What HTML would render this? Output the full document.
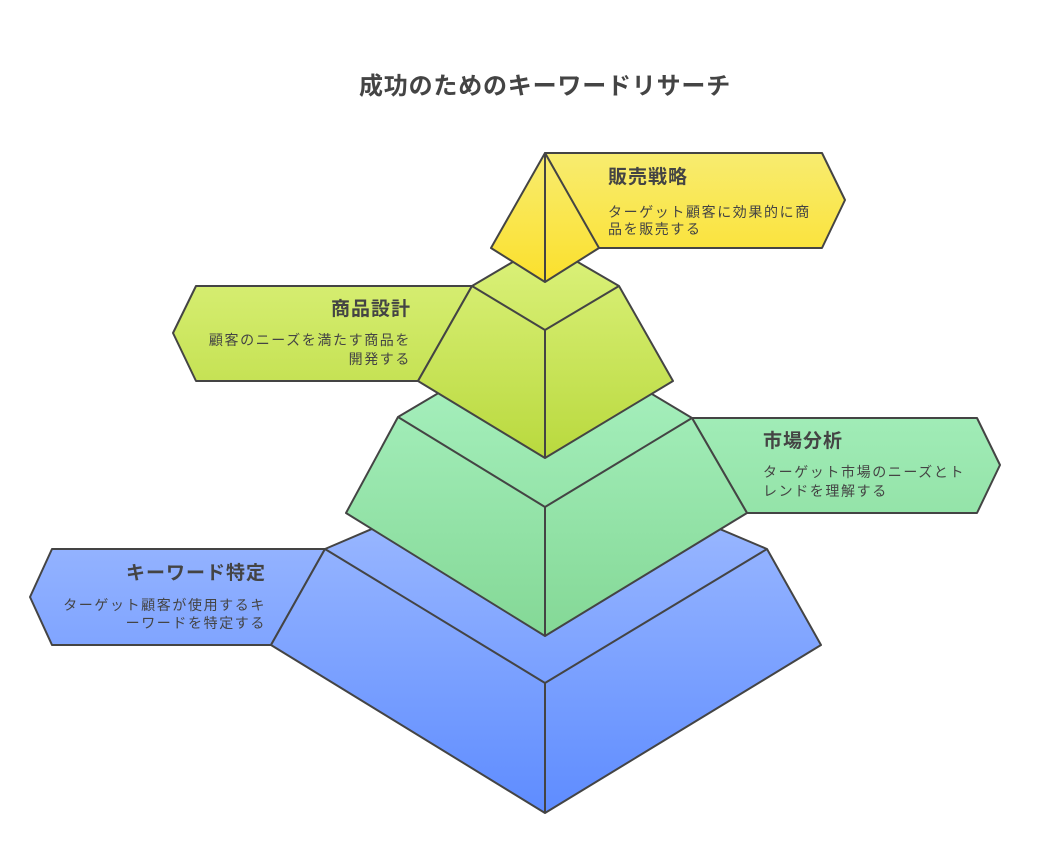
<!DOCTYPE html>
<html><head><meta charset="utf-8"><style>
html,body{margin:0;padding:0;background:#fff;}
svg{display:block;}
text{font-family:"Liberation Sans","Noto Sans CJK JP",sans-serif;fill:#444;}
.t{font-weight:bold;font-size:19px;letter-spacing:1px;}
.d{font-size:14px;letter-spacing:1.6px;}
</style></head><body>
<svg width="1044" height="845" viewBox="0 0 1044 845" xmlns="http://www.w3.org/2000/svg">
<defs>
<linearGradient id="gy" x1="0" y1="153" x2="0" y2="282" gradientUnits="userSpaceOnUse"><stop offset="0" stop-color="#f8ec70"/><stop offset="1" stop-color="#fbe02c"/></linearGradient>
<linearGradient id="gl" x1="0" y1="245" x2="0" y2="458" gradientUnits="userSpaceOnUse"><stop offset="0" stop-color="#dcf27c"/><stop offset="1" stop-color="#b9d93e"/></linearGradient>
<linearGradient id="gg" x1="0" y1="330" x2="0" y2="636" gradientUnits="userSpaceOnUse"><stop offset="0" stop-color="#acf4c4"/><stop offset="1" stop-color="#84d896"/></linearGradient>
<linearGradient id="gb" x1="0" y1="455" x2="0" y2="813" gradientUnits="userSpaceOnUse"><stop offset="0" stop-color="#a6c0ff"/><stop offset="1" stop-color="#5e8cff"/></linearGradient>
</defs>
<g stroke="#444" stroke-width="2" stroke-linejoin="round">
<polygon points="545,153 822,153 845,200 822,248 598,248" fill="url(#gy)"/>
<polygon points="472,286 196,286 173,333 196,381 418,381" fill="url(#gl)"/>
<polygon points="692,418 977,418 1000,465 977,513 747,513" fill="url(#gg)"/>
<polygon points="325,549 52,549 30,597 52,645 271,645" fill="url(#gb)"/>
<polygon points="325,549 545,455 767,549 821,645 545,813 271,645" fill="url(#gb)"/>
<polyline points="325,549 545,683 767,549" fill="none"/>
<line x1="545" y1="683" x2="545" y2="813"/>
<polygon points="398,417 545,330 692,418 747,513 545,636 346,513" fill="url(#gg)"/>
<polyline points="398,417 545,507 692,418" fill="none"/>
<line x1="545" y1="507" x2="545" y2="636"/>
<polygon points="472,286 545,243 619,286 673,381 545,458 418,381" fill="url(#gl)"/>
<polyline points="472,286 545,330 619,286" fill="none"/>
<line x1="545" y1="330" x2="545" y2="458"/>
<polygon points="545,153 599,248 545,282 491,248" fill="url(#gy)"/>
<line x1="545" y1="153" x2="545" y2="282"/>
</g>
<text x="545" y="94" text-anchor="middle" style="font-weight:bold;font-size:24px;letter-spacing:0.8px">成功のためのキーワードリサーチ</text>
<text class="t" x="608" y="183">販売戦略</text>
<text class="d" x="608" y="217">ターゲット顧客に効果的に商</text>
<text class="d" x="608" y="234">品を販売する</text>
<text class="t" x="411" y="315" text-anchor="end">商品設計</text>
<text class="d" x="411" y="345" text-anchor="end">顧客のニーズを満たす商品を</text>
<text class="d" x="411" y="364" text-anchor="end">開発する</text>
<text class="t" x="763" y="447">市場分析</text>
<text class="d" x="763" y="477">ターゲット市場のニーズとト</text>
<text class="d" x="763" y="496">レンドを理解する</text>
<text class="t" x="266" y="579" text-anchor="end">キーワード特定</text>
<text class="d" x="266" y="610" text-anchor="end">ターゲット顧客が使用するキ</text>
<text class="d" x="266" y="628" text-anchor="end">ーワードを特定する</text>
</svg>
</body></html>
